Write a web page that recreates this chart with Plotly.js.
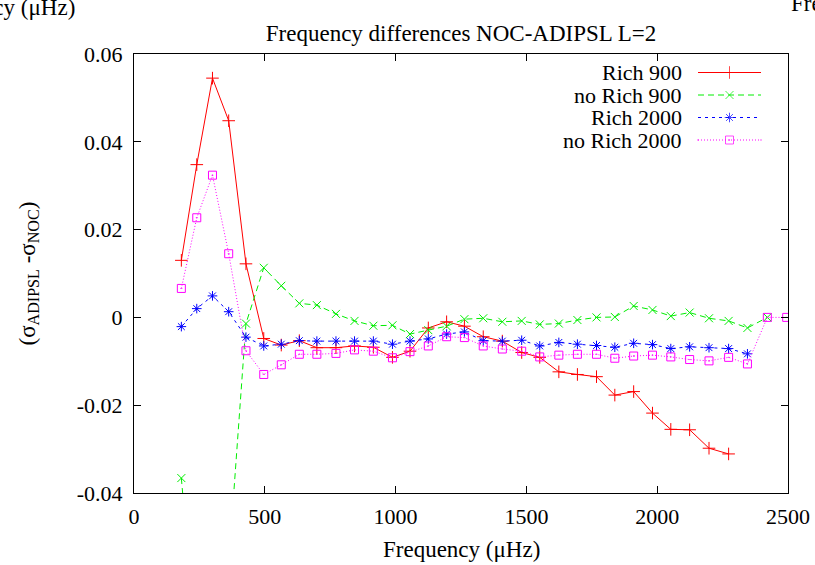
<!DOCTYPE html>
<html>
<head>
<meta charset="utf-8">
<script src="https://cdn.plot.ly/plotly-3.0.1.min.js"></script>
<style>html,body{margin:0;padding:0;background:#fff;}#chart{width:815px;height:565px;}</style>
</head>
<body>
<div id="chart"></div>
<script>
// ---- data ----
const freqs = [181, 240, 300, 362, 428, 496, 563, 632, 699, 772, 843, 915, 988, 1055, 1125, 1195, 1263, 1335, 1408, 1482, 1551, 1624, 1695, 1768, 1838, 1910, 1982, 2052, 2124, 2198, 2273, 2345, 2421, 2495];

const rich900 = [0.0130, 0.0348, 0.0545, 0.0448, 0.0122, -0.0048, -0.0063, -0.0053, -0.0069, -0.0069, -0.0065, -0.0068, -0.0091, -0.0077, -0.0024, -0.0010, -0.0020, -0.0044, -0.0054, -0.0080, -0.0091, -0.0124, -0.0130, -0.0135, -0.0177, -0.0169, -0.0218, -0.0255, -0.0256, -0.0298, -0.0311];

const noRich900 = [-0.0366, -0.077, -0.068, -0.056, -0.0014, 0.0113, 0.0072, 0.0032, 0.0028, 0.0008, -0.0008, -0.0019, -0.0018, -0.0038, -0.0029, -0.0020, -0.0004, -0.0002, -0.0010, -0.0008, -0.0016, -0.0014, -0.0006, 0.0000, 0.0001, 0.0026, 0.0017, 0.0003, 0.0011, -0.0002, -0.0008, -0.0024, 0.0000];

const rich2000 = [-0.0021, 0.0020, 0.0049, 0.0013, -0.0045, -0.0065, -0.0061, -0.0053, -0.0054, -0.0054, -0.0054, -0.0054, -0.0061, -0.0054, -0.0049, -0.0038, -0.0033, -0.0053, -0.0054, -0.0052, -0.0065, -0.0057, -0.0061, -0.0064, -0.0068, -0.0059, -0.0062, -0.0071, -0.0067, -0.0069, -0.0071, -0.0083];

const noRich2000 = [0.0066, 0.0227, 0.0324, 0.0145, -0.0076, -0.0130, -0.0108, -0.0084, -0.0084, -0.0082, -0.0074, -0.0077, -0.0092, -0.0078, -0.0065, -0.0044, -0.0046, -0.0065, -0.0072, -0.0077, -0.0090, -0.0086, -0.0084, -0.0084, -0.0093, -0.0088, -0.0086, -0.0090, -0.0096, -0.0099, -0.0091, -0.0106, 0.0000, 0.0000];

const seriesNames = ["Rich 900", "no Rich 900", "Rich 2000", "no Rich 2000"];
const xTickVals = [0, 500, 1000, 1500, 2000, 2500];
const xTickText = ["0", "500", "1000", "1500", "2000", "2500"];
const yTickVals = [-0.04, -0.02, 0, 0.02, 0.04, 0.06];
const yTickText = ["-0.04", "-0.02", "0", "0.02", "0.04", "0.06"];

// ---- styles ----
const FONT = "Liberation Serif";
const styles = [
  {color: "#ff0000", dash: "solid", symbol: "cross-thin", size: 9},
  {color: "#00ee00", dash: "6px,4px", symbol: "x-thin", size: 8},
  {color: "#0000ff", dash: "3px,4px", symbol: "asterisk", size: 8},
  {color: "#ff00ff", dash: "1px,2px", symbol: "square-open-dot", size: 8}
];
const seriesY = [rich900, noRich900, rich2000, noRich2000];

// plot-area pixel geometry
const W = 815, H = 565;
const L = 134, R = 27, T = 54, B = 72;
const pw = W - L - R, ph = H - T - B;
const px2x = p => (p - L) / pw;
const py2y = p => (H - B - p) / ph;

const traces = [];
seriesY.forEach((ys, i) => {
  const s = styles[i];
  traces.push({
    x: freqs.slice(0, ys.length), y: ys, type: "scatter", mode: "lines+markers",
    name: seriesNames[i], showlegend: false, cliponaxis: true,
    line: {color: s.color, width: 1, dash: s.dash},
    marker: {symbol: s.symbol, size: s.size, color: s.color, line: {color: s.color, width: 1}}
  });
});

// manual gnuplot-style key (text left, sample right)
const keyTextX = 684, keyX0 = 698, keyX1 = 761;
const keyRowsY = [72.5, 95, 117.5, 140];
const annotations = [];
seriesNames.forEach((n, i) => {
  const s = styles[i];
  annotations.push({
    xref: "paper", yref: "paper", x: px2x(keyTextX), y: py2y(keyRowsY[i]),
    xanchor: "right", yanchor: "middle", text: n, showarrow: false,
    font: {family: FONT, size: 22, color: "#000"}
  });
  traces.push({
    x: [px2x(keyX0), px2x((keyX0 + keyX1) / 2), px2x(keyX1)],
    y: [py2y(keyRowsY[i]), py2y(keyRowsY[i]), py2y(keyRowsY[i])],
    xaxis: "x2", yaxis: "y2", type: "scatter", mode: "lines+markers", showlegend: false,
    line: {color: s.color, width: 1, dash: s.dash},
    marker: {symbol: s.symbol, size: [0, s.size, 0], color: s.color, line: {color: s.color, width: 1}}
  });
});

// axis titles
annotations.push({
  xref: "paper", yref: "paper", x: 0.5, y: py2y(549), xanchor: "center", yanchor: "middle",
  text: "Frequency (μHz)", showarrow: false, font: {family: FONT, size: 23, color: "#000"}
});
annotations.push({
  xref: "paper", yref: "paper", x: px2x(28), y: 0.5, xanchor: "center", yanchor: "middle",
  textangle: -90, text: "(σ<sub>ADIPSL</sub> -σ<sub>NOC</sub>)", showarrow: false,
  font: {family: FONT, size: 23, color: "#000"}
});
// cut-off texts of neighbouring panels
annotations.push({
  xref: "paper", yref: "paper", x: px2x(77), y: py2y(7), xanchor: "right", yanchor: "middle",
  text: "Frequency (μHz)", showarrow: false, font: {family: FONT, size: 23, color: "#000"}
});
annotations.push({
  xref: "paper", yref: "paper", x: px2x(789), y: py2y(3), xanchor: "left", yanchor: "middle",
  text: "Frequency differences NOC-ADIPSL L=0", showarrow: false, font: {family: FONT, size: 23, color: "#000"}
});

const axisCommon = {
  showgrid: false, zeroline: false, showline: true, linecolor: "#000", linewidth: 1,
  mirror: "ticks", ticks: "inside", ticklen: 7, tickwidth: 1, tickcolor: "#000",
  tickfont: {family: FONT, size: 22, color: "#000"}, fixedrange: true
};

const layout = {
  width: W, height: H,
  margin: {l: L, r: R, t: T, b: B, pad: 0},
  paper_bgcolor: "#fff", plot_bgcolor: "#fff",
  font: {family: FONT, color: "#000"},
  title: {text: "Frequency differences NOC-ADIPSL L=2", font: {family: FONT, size: 23, color: "#000"},
          x: 0.5, xref: "paper", y: 1 - 33 / H, yref: "container", yanchor: "middle"},
  xaxis: Object.assign({}, axisCommon, {range: [0, 2500], tickvals: xTickVals, ticktext: xTickText, ticklabelstandoff: 4}),
  yaxis: Object.assign({}, axisCommon, {range: [-0.04, 0.06], tickvals: yTickVals, ticktext: yTickText, ticklabelstandoff: 6}),
  xaxis2: {overlaying: "x", range: [0, 1], visible: false, fixedrange: true},
  yaxis2: {overlaying: "y", range: [0, 1], visible: false, fixedrange: true},
  showlegend: false,
  annotations: annotations
};

Plotly.newPlot("chart", traces, layout, {staticPlot: true, displayModeBar: false});
</script>
</body>
</html>
